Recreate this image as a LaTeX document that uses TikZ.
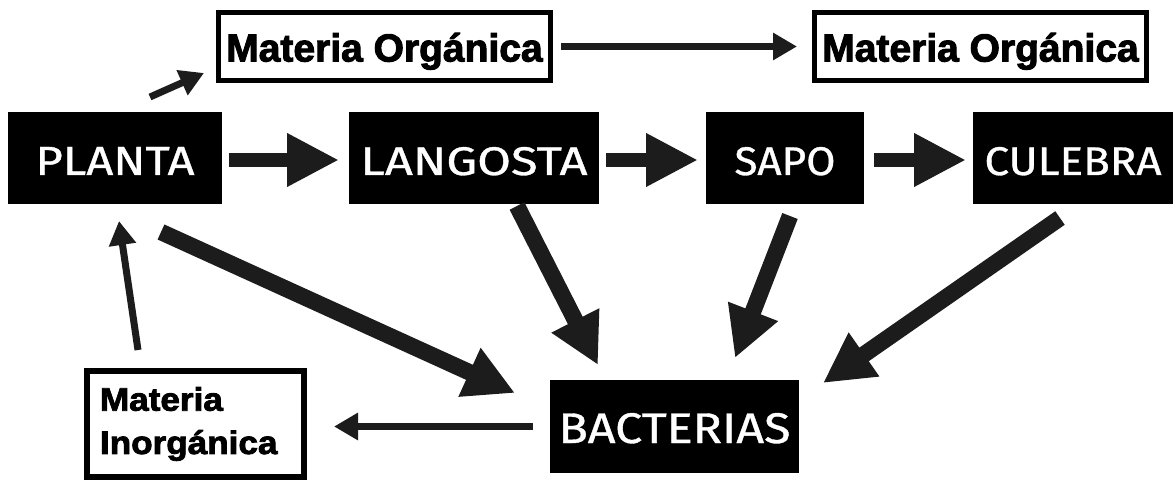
\documentclass[tikz,border=0pt]{standalone}
\usepackage{fontspec}
\setmainfont{Liberation Sans}
\newfontfamily\comicfont[FakeBold=0.8]{Fira Sans}
\newfontfamily\heavyfont[FakeBold=2.5]{Liberation Sans Bold}
\newfontfamily\heavynarrow[FakeStretch=1.08,FakeBold=2.5]{Liberation Sans Bold}
\usetikzlibrary{arrows.meta,calc}
\definecolor{arrowc}{HTML}{1C1C1C}
\newcommand\fitlabel[3]{\resizebox{#1}{#2}{\comicfont #3}}
\begin{document}
\begin{tikzpicture}[x=1pt,y=-1pt,
  blackbox/.style={fill=black,text=white,inner sep=0pt,outer sep=0pt,
    minimum width=#1,minimum height=92pt,text height=34pt,text depth=0pt},
  whitebox/.style={draw=black,line width=5pt,fill=white,inner sep=0pt,outer sep=0pt},
  blockarrow/.style={draw=arrowc,line width=14pt,-{Triangle[length=52pt,width=50pt]}},
  diagarrow/.style={draw=arrowc,line width=16.5pt,-{Triangle[length=50pt,width=50pt]}},
  thinarrow/.style={draw=arrowc,line width=7pt,-{Triangle[length=24pt,width=26pt]}},
]
\fill[white] (0,0) rectangle (1173,481);
\useasboundingbox (0,0) rectangle (1173,481);

% nodes
\node[blackbox=214pt] (planta) at (115,158) {\fitlabel{159pt}{28pt}{PLANTA}};
\node[blackbox=250pt] (langosta) at (474,158) {\fitlabel{227pt}{28pt}{LANGOSTA}};
\node[blackbox=158pt] (sapo) at (785,158) {\fitlabel{101pt}{28pt}{SAPO}};
\node[blackbox=200pt] (culebra) at (1073,158) {\fitlabel{177pt}{28pt}{CULEBRA}};
\node[blackbox=249pt,minimum height=93pt,text height=33pt] (bacterias) at (674.5,426.5)
  {\fitlabel{232pt}{30pt}{BACTERIAS}};

\node[whitebox,minimum width=332pt,minimum height=68pt,text height=30pt,text depth=0pt,
  font=\heavyfont\fontsize{39}{46}\selectfont] (mo1) at (384.5,46.5) {Materia Orgánica};
\node[whitebox,minimum width=332pt,minimum height=68pt,text height=30pt,text depth=0pt,
  font=\heavyfont\fontsize{39}{46}\selectfont] (mo2) at (980.5,46.5) {Materia Orgánica};
\node[whitebox,line width=6pt,minimum width=217pt,minimum height=106pt,
  align=left,text width=191pt,
  font=\heavynarrow\fontsize{32.5}{43.3}\selectfont] (mi) at (195.5,424) {Materia\\Inorgánica};

% connectors
\draw[blockarrow] ([shift={(7,2)}]planta.east) -- ([shift={(-10,2)}]langosta.west);
\draw[blockarrow] ([shift={(7,2)}]langosta.east) -- ([shift={(-8,2)}]sapo.west);
\draw[blockarrow] ([shift={(10,2)}]sapo.east) -- ([shift={(-7,2)}]culebra.west);

\draw[thinarrow] ([shift={(10.5,0)}]mo1.east) -- ([shift={(-17.5,0)}]mo2.west);
\draw[thinarrow] ([shift={(35,-15)}]planta.north) -- ([shift={(-14.5,26.5)}]mo1.west);
\draw[thinarrow] ([shift={(-57.5,-21)}]mi.north) -- ([shift={(4,17)}]planta.south);
\draw[thinarrow] ([shift={(-17,0)}]bacterias.west) -- ([shift={(30,2.5)}]mi.east);

\draw[diagarrow] ([shift={(46,28)}]planta.south) -- ([shift={(-35,13)}]bacterias.north west);
\draw[diagarrow] ([shift={(43,2)}]langosta.south) -- ([shift={(48,-15)}]bacterias.north west);
\draw[diagarrow] ([shift={(5,12)}]sapo.south) -- ([shift={(185,-22)}]bacterias.north west);
\draw[diagarrow] ([shift={(-13,14)}]culebra.south) -- ([shift={(24,3)}]bacterias.north east);
\end{tikzpicture}
\end{document}
